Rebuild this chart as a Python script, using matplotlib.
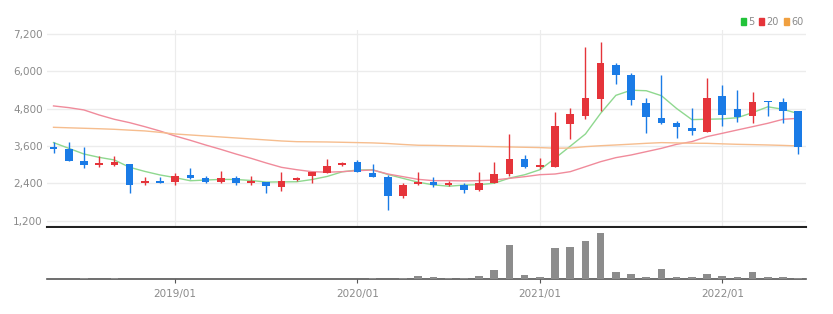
import numpy as np
import matplotlib
matplotlib.use('Agg')
import matplotlib.pyplot as plt
from matplotlib.patches import Patch
from matplotlib.ticker import FuncFormatter

# monthly candles, 2018/05 .. 2022/06
months = [f"{y}/{m:02d}" for y in range(2018, 2023) for m in range(1, 13)][4:54]

opens = [3580, 3500, 3130, 3000, 3000, 3012, 2402, 2466, 2455, 2680,
         2563, 2455, 2563, 2413, 2455, 2295, 2510, 2648, 2723, 2990,
         3077, 2723, 2595, 1995, 2380, 2455, 2348, 2360, 2188, 2423,
         2702, 3173, 2916, 2937, 4308, 4565, 5112, 6204, 5883, 4994,
         4501, 4351, 4190, 4062, 5208, 4790, 4576, 5048, 5026, 4726]
highs = [3720, 3730, 3580, 3280, 3280, 3012, 2605, 2615, 2723, 2884,
         2648, 2798, 2648, 2638, 2455, 2755, 2610, 2755, 3195, 3100,
         3150, 3023, 2659, 2402, 2777, 2616, 2488, 2402, 2777, 3098,
         3976, 3312, 3205, 4683, 4833, 6772, 6932, 6258, 5958, 5133,
         5883, 4394, 4812, 5776, 5561, 5401, 5347, 5060, 5133, 4726]
lows = [3370, 3110, 2905, 2916, 2960, 2080, 2338, 2400, 2348, 2530,
        2402, 2402, 2338, 2359, 2080, 2145, 2490, 2423, 2723, 2970,
        2755, 2595, 1545, 1920, 2348, 2295, 2316, 2080, 2166, 2402,
        2638, 2884, 2852, 2916, 3816, 4458, 4737, 5594, 4908, 4008,
        4308, 3869, 3955, 4062, 4255, 4383, 4351, 4565, 4330, 3344]
closes = [3510, 3130, 2980, 3066, 3080, 2338, 2466, 2410, 2638, 2573,
          2455, 2563, 2402, 2477, 2316, 2488, 2584, 2755, 2970, 3066,
          2777, 2616, 2006, 2338, 2455, 2348, 2402, 2188, 2402, 2691,
          3173, 2937, 2990, 4244, 4630, 5133, 6258, 5872, 5069, 4544,
          4330, 4201, 4094, 5133, 4597, 4522, 5026, 5015, 4737, 3580]
volumes = [60, 70, 150, 60, 150, 80, 70, 10, 10, 10,
           10, 60, 10, 10, 60, 60, 10, 10, 60, 60,
           60, 100, 70, 150, 330, 200, 100, 100, 330, 970,
           3470, 400, 200, 3100, 3270, 3870, 4670, 770, 500, 200,
           1030, 200, 200, 530, 330, 200, 700, 200, 200, 100]

ma5 = [3710, 3527, 3344, 3237, 3153, 2919, 2786, 2672, 2586, 2485,
       2508, 2528, 2526, 2494, 2443, 2449, 2453, 2524, 2623, 2773,
       2830, 2837, 2687, 2561, 2438, 2353, 2310, 2346, 2359, 2406,
       2571, 2678, 2839, 3207, 3595, 3987, 4651, 5227, 5392, 5375,
       5215, 4803, 4448, 4460, 4471, 4509, 4674, 4859, 4779, 4640]
ma20 = [4887, 4833, 4758, 4597, 4458, 4351, 4222, 4083, 3923, 3784,
        3634, 3494, 3344, 3205, 3055, 2916, 2840, 2777, 2760, 2777,
        2810, 2830, 2702, 2616, 2530, 2488, 2488, 2480, 2488, 2509,
        2563, 2616, 2680, 2702, 2777, 2937, 3098, 3227, 3312, 3419,
        3526, 3655, 3741, 3902, 4008, 4116, 4222, 4330, 4458, 4490]
ma60 = [4201, 4185, 4170, 4155, 4137, 4110, 4085, 4040, 3987, 3955,
        3923, 3891, 3859, 3827, 3795, 3762, 3740, 3735, 3730, 3720,
        3710, 3700, 3680, 3650, 3625, 3620, 3610, 3600, 3590, 3580,
        3570, 3560, 3550, 3530, 3535, 3580, 3610, 3634, 3660, 3687,
        3709, 3700, 3690, 3687, 3670, 3655, 3645, 3634, 3620, 3602]

year_ticks = ['2019/01', '2020/01', '2021/01', '2022/01']

RED = '#e5343a'
BLUE = '#1a7be6'
GRID = '#ececec'
TXT = '#8a8a8a'

plt.rcParams['font.family'] = ['Liberation Sans Narrow', 'DejaVu Sans']

fig = plt.figure(figsize=(8.33, 3.14), dpi=100)
ax = fig.add_axes([0.0564, 0.277, 0.911, 0.628])
axv = fig.add_axes([0.0564, 0.110, 0.911, 0.164], sharex=ax)

x = np.arange(len(months))
o, h, l, c = map(np.array, (opens, highs, lows, closes))
up = c >= o
cols = np.where(up, RED, BLUE)
body_lo = np.minimum(o, c)
body_h = np.maximum(np.abs(c - o), 35)

ax.vlines(x, l, h, colors=cols, lw=1.0, zorder=3)
ax.bar(x, body_h, bottom=body_lo, width=0.5, color=cols, zorder=4)

ax.plot(x, ma5, color='#8fd88f', lw=1.0, zorder=2)
ax.plot(x, ma20, color='#f08b9b', lw=1.0, zorder=2)
ax.plot(x, ma60, color='#f6bd8e', lw=1.0, zorder=2)

tick_pos = [months.index(t) for t in year_ticks]

ax.set_ylim(1000, 7330)
ax.set_yticks([1200, 2400, 3600, 4800, 6000, 7200])
ax.yaxis.set_major_formatter(FuncFormatter(lambda v, p: f"{int(v):,}"))
ax.tick_params(axis='y', length=0, labelsize=7.5, labelcolor=TXT, pad=3)
ax.tick_params(axis='x', length=0, labelbottom=False)
ax.grid(axis='y', color=GRID, lw=1.0, zorder=0)
for p in tick_pos:
    ax.axvline(p, color=GRID, lw=0.8, zorder=0)
for s in ['top', 'right', 'left']:
    ax.spines[s].set_visible(False)
ax.spines['bottom'].set_color('#222222')
ax.spines['bottom'].set_linewidth(1.5)
ax.set_xlim(-0.43, 49.5)

axv.bar(x, volumes, width=0.5, color='#8c8c8c', zorder=3)
axv.set_ylim(0, 5150)
axv.set_yticks([])
axv.set_xticks(tick_pos)
axv.set_xticklabels(year_ticks)
axv.tick_params(axis='x', length=3, color='#555555', labelsize=7.5, labelcolor=TXT, pad=4)
for s in ['top', 'right', 'left']:
    axv.spines[s].set_visible(False)
axv.spines['bottom'].set_color('#555555')
axv.spines['bottom'].set_linewidth(1.2)

handles = [Patch(color='#22c33a'), Patch(color=RED), Patch(color='#f0a040')]
fig.legend(handles, ['5', '20', '60'], loc='upper right', bbox_to_anchor=(0.975, 0.975),
           ncol=3, frameon=False, fontsize=7, handlelength=0.5, handleheight=0.8,
           handletextpad=0.25, columnspacing=0.5, labelcolor=TXT)

fig.savefig('out.png', dpi=100, facecolor='white')
